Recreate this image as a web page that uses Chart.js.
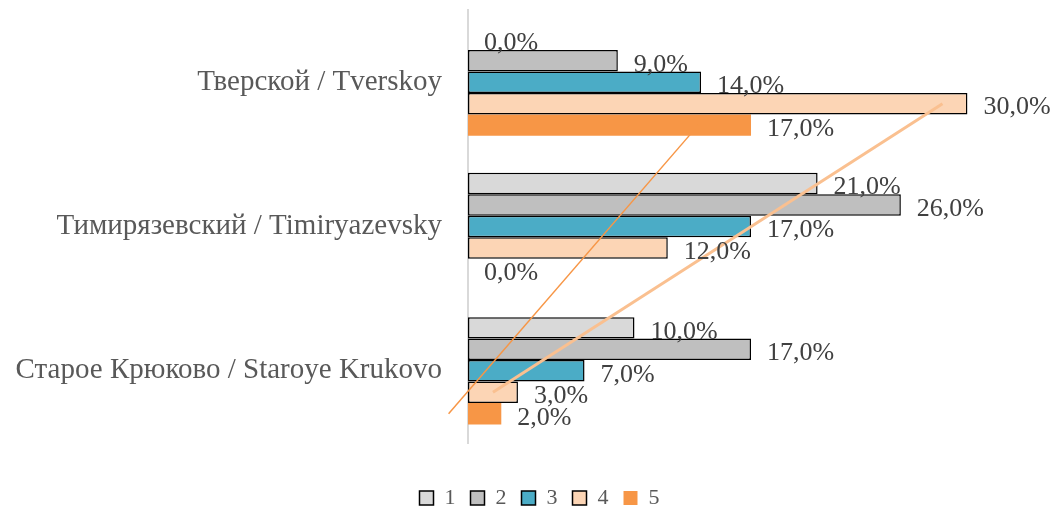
<!DOCTYPE html>
<html>
<head>
<meta charset="utf-8">
<script src="https://cdn.jsdelivr.net/npm/chart.js@4/dist/chart.umd.min.js"></script>
<style>
  html, body { margin: 0; padding: 0; background: #fff; overflow: hidden; }
  canvas { display: block; }
</style>
</head>
<body>
<canvas id="districtChart" width="1059" height="508"></canvas>
<script>
// categories, top to bottom
const districts = ['Тверской / Tverskoy', 'Тимирязевский / Timiryazevsky', 'Старое Крюково / Staroye Krukovo'];
const seriesNames = ['1', '2', '3', '4', '5'];

// shares, %
const s1 = [0, 21, 10];
const s2 = [9, 26, 17];
const s3 = [14, 17, 7];
const s4 = [30, 12, 3];
const s5 = [17, 0, 2];

const fills = ['#D9D9D9', '#BFBFBF', '#4BACC6', '#FCD5B5', '#F79646'];
const trendColors = { 3: '#FAC090', 4: '#F79646' };
const trendWidths = { 3: 3, 4: 1.5 };
const serif = "'Liberation Serif', 'Times New Roman', serif";

const fmt = v => v.toFixed(1).replace('.', ',') + '%';

// linear trend over category index (Excel counts categories from the bottom)
function fitLine(values) {
    const n = values.length;
    const xs = values.map((_, i) => n - i);
    const mx = xs.reduce((a, b) => a + b, 0) / n;
    const my = values.reduce((a, b) => a + b, 0) / n;
    let num = 0, den = 0;
    xs.forEach((x, i) => { num += (x - mx) * (values[i] - my); den += (x - mx) * (x - mx); });
    const k = num / den;
    return xs.map(x => my + k * (x - mx));
}

const trendAndLabels = {
    id: 'trendAndLabels',
    afterDatasetsDraw(chart) {
        const ctx = chart.ctx;
        const xs = chart.scales.x;
        ctx.save();
        Object.keys(trendColors).forEach(key => {
            const i = Number(key);
            const meta = chart.getDatasetMeta(i);
            const fit = fitLine(chart.data.datasets[i].data);
            const last = fit.length - 1;
            ctx.beginPath();
            ctx.strokeStyle = trendColors[i];
            ctx.lineWidth = trendWidths[i];
            ctx.moveTo(xs.getPixelForValue(fit[0]), meta.data[0].y);
            ctx.lineTo(xs.getPixelForValue(fit[last]), meta.data[last].y);
            ctx.stroke();
        });

        ctx.fillStyle = '#404040';
        ctx.font = '26px ' + serif;
        ctx.textAlign = 'left';
        ctx.textBaseline = 'middle';
        chart.data.datasets.forEach((ds, i) => {
            const meta = chart.getDatasetMeta(i);
            meta.data.forEach((bar, j) => {
                ctx.fillText(fmt(ds.data[j]), bar.x + 16, bar.y + 4);
            });
        });
        ctx.restore();
    }
};

const allSeries = [s1, s2, s3, s4, s5];

new Chart(document.getElementById('districtChart'), {
    type: 'bar',
    data: {
        labels: districts,
        datasets: allSeries.map((vals, i) => ({
            label: seriesNames[i],
            data: vals,
            backgroundColor: fills[i],
            borderColor: '#000000',
            borderWidth: i === 4 ? 0 : 1.5,
            borderSkipped: false,
            barPercentage: 1,
            categoryPercentage: 0.744
        }))
    },
    options: {
        indexAxis: 'y',
        responsive: false,
        animation: false,
        layout: {
            padding: { top: 10, left: 0, right: -20, bottom: -11 }
        },
        scales: {
            x: {
                min: 0,
                max: 35.5,
                grid: { display: false },
                border: { display: false },
                ticks: { display: false },
                afterFit(scale) { scale.height = 29; }
            },
            y: {
                grid: { display: false, drawTicks: false },
                border: { display: true, color: '#D9D9D9', width: 2 },
                ticks: {
                    color: '#595959',
                    padding: 26,
                    font: { family: serif, size: 29 }
                },
                afterFit(scale) {
                    scale.width = 468;
                    scale.paddingTop = 0;
                    scale.paddingBottom = 0;
                }
            }
        },
        plugins: {
            legend: {
                position: 'bottom',
                labels: {
                    color: '#595959',
                    boxWidth: 14,
                    boxHeight: 14,
                    padding: 15,
                    font: { family: serif, size: 22 }
                }
            },
            tooltip: { enabled: false }
        }
    },
    plugins: [trendAndLabels]
});
</script>
</body>
</html>
